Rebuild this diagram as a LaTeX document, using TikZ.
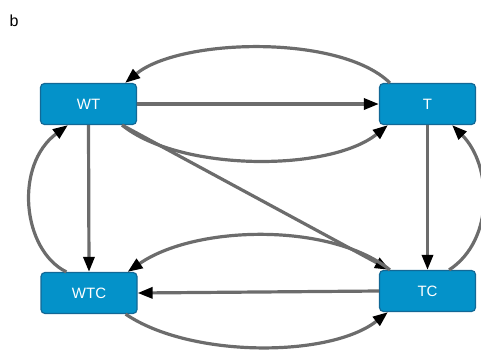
\documentclass[tikz,border=0pt]{standalone}
\usepackage{fontspec}
\setmainfont{Liberation Sans}
\usetikzlibrary{arrows.meta,calc}
\definecolor{boxfill}{RGB}{4,146,201}
\definecolor{boxedge}{RGB}{18,104,150}
\definecolor{edgegray}{RGB}{108,108,108}
\begin{document}
\begin{tikzpicture}[x=1pt,y=-1pt,
  state/.style={draw=boxedge,line width=1.2pt,fill=boxfill,rounded corners=4pt,
    minimum width=96pt,minimum height=41pt,inner sep=0pt,
    text=white,font=\fontsize{15}{15}\selectfont},
  link/.style={draw=edgegray,line width=3.2pt,
    -{Triangle[length=15pt,width=11pt,color=black]}},
  panel/.style={font=\fontsize{16}{16}\selectfont,inner sep=0pt}]
\useasboundingbox (0,0) rectangle (481,349);
\node[panel] (lbl) at (14,21) {b};

\node[state] (WT)  at (88.5,104) {WT};
\node[state] (T)   at (427.5,104) {T};
\node[state] (WTC) at (89,293) {WTC};
\node[state] (TC)  at (427.5,291) {TC};

% straight transitions
\draw[link] (WT.east) -- (T.west);
\draw[link] (WT.south) -- (WTC.north);
\draw[link] (T.south) -- (TC.north);
\draw[link] (TC.west) -- (WTC.east);
\draw[link] ($(WT.south east)+(-15,0)$) -- ($(TC.north west)+(11,0)$);

% curved transitions
\draw[link] ($(T.north west)+(11,0)$) .. controls (340,34) and (180,38) .. ($(WT.north east)+(-12,0)$);
\draw[link] ($(WT.south east)+(-15,0)$) .. controls (180,172) and (330,172) .. ($(T.south west)+(9,0)$);
\draw[link] ($(WTC.north west)+(26,0)$) .. controls (22,250) and (14,165) .. ($(WT.south west)+(28,0)$);
\draw[link] ($(TC.north west)+(11,0)$) .. controls (330,222) and (195,225) .. ($(WTC.north east)+(-10,0)$);
\draw[link] ($(WTC.south east)+(-12,0)$) .. controls (190,358) and (330,358) .. ($(TC.south west)+(9,0)$);
\draw[link] ($(TC.north east)+(-27,0)$) .. controls (495,240) and (492,165) .. ($(T.south east)+(-24,0)$);
\end{tikzpicture}
\end{document}
